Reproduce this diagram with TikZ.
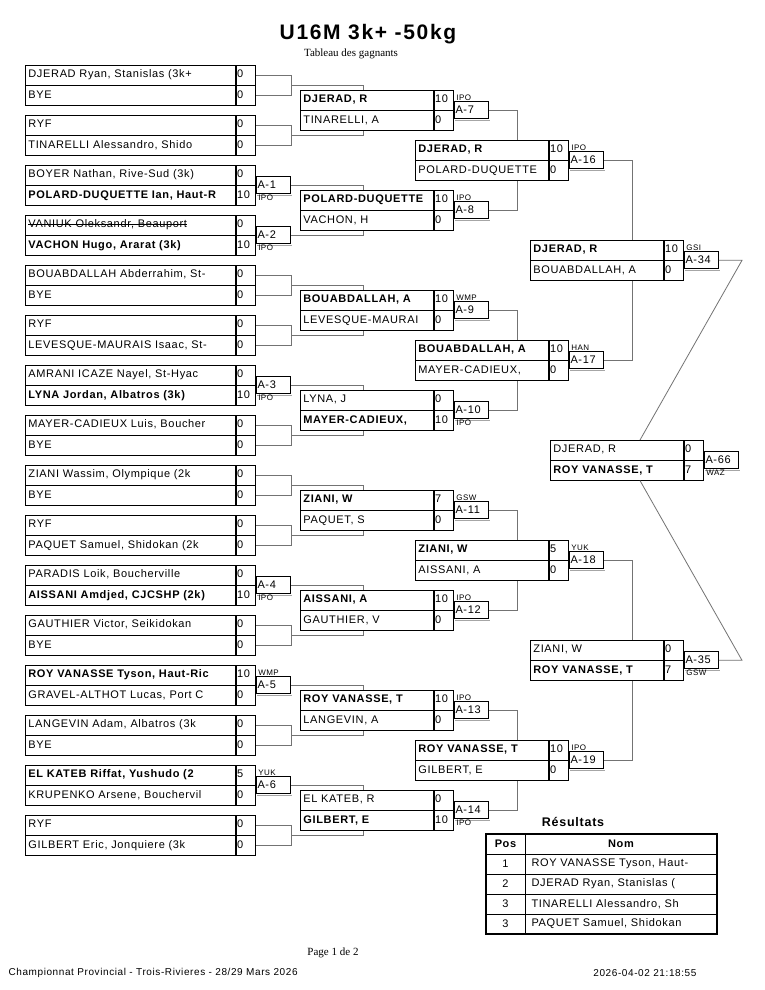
\documentclass[tikz,border=0pt]{standalone}
\usepackage{fontspec}
\setmainfont{Liberation Sans}[LetterSpace=6]
\newfontfamily\serfont{Liberation Serif}
\newfontfamily\headfont{Liberation Sans}[LetterSpace=8]
\usetikzlibrary{calc}

\newcommand{\cellfont}{\fontsize{11}{12}\selectfont}
\newcommand{\tagfont}{\fontsize{8}{9}\selectfont}
\newcommand{\win}[1]{\textbf{#1}}
\newcommand{\strike}[1]{\setbox0\hbox{#1}\rlap{\raisebox{3.3pt}{\rule{\wd0}{0.7pt}}}\box0}

\tikzset{
	namecell/.style={draw, line width=0.8pt, inner xsep=3pt, inner ysep=0pt, minimum height=19.5pt, text height=8pt, text depth=2.5pt, font=\cellfont},
	scorecell/.style={namecell, inner xsep=1pt},
	codebox/.style={draw, line width=0.8pt, fill=white, inner xsep=1pt, inner ysep=0pt, minimum height=17pt, text height=8pt, text depth=2.5pt, font=\cellfont},
	wintag/.style={inner sep=1pt, font=\tagfont},
	link/.style={draw=black!55, line width=0.8pt},
	shadowline/.style={draw=black!35, line width=1pt},
	tableline/.style={draw=black, line width=0.6pt}
}

% one bout: id, x, y, name width, top name, top score, bottom name, bottom score, entry offset
\newcommand{\bout}[9]{%
	\node[namecell, anchor=north west] (#1-a) at (#2,#3) {\makebox[\dimexpr#4pt-6pt\relax][l]{#5}};
	\node[scorecell, anchor=north west] (#1-as) at (#1-a.north east) {\makebox[17.5pt][l]{#6}};
	\node[namecell, anchor=north west] (#1-b) at (#1-a.south west) {\makebox[\dimexpr#4pt-6pt\relax][l]{#7}};
	\node[scorecell, anchor=north west] (#1-bs) at (#1-b.north east) {\makebox[17.5pt][l]{#8}};
	\coordinate (#1-top) at ($(#1-a.north west)+(#9,0)$);
	\coordinate (#1-bot) at ($(#1-b.south west)+(#9,0)$);
}
% match code box: id, code, tag, tag anchor, box anchor
\newcommand{\code}[5]{%
	\node[codebox, anchor=west] (#1-c) at (#1-as.south east) {\makebox[32pt][l]{#2}};
	\draw[shadowline] ([shift={(1pt,-1pt)}]#1-c.south west) -- ([shift={(1pt,-1pt)}]#1-c.south east);
	\node[wintag, anchor=#4] (#1-t) at ([xshift=1pt]#1-c.#5) {#3};
	\coordinate (#1-o) at (#1-c.east);
}
% bye bracket
\newcommand{\bracket}[1]{%
	\draw[link] (#1-as.east) -- ++(35,0) |- (#1-bs.east);
	\coordinate (#1-o) at ($(#1-as.south east)+(35,0)$);
}

\begin{document}
\begin{tikzpicture}[x=1pt, y=-1pt]
	%%%%% PAGE %%%%%
	\path[fill=white, use as bounding box] (0,0) rectangle (765,990);
	
	\node[font=\headfont\bfseries\fontsize{21}{24}\selectfont] (title) at (368,34) {U16M 3k+ -50kg};
	\node[font=\serfont\fontsize{11}{12}\selectfont] (sub) at (351,54) {Tableau des gagnants};
	
	%%%%% ROUND 1 %%%%%
	\bout{r1-0}{25}{65}{210}{DJERAD Ryan, Stanislas (3k+}{0}{BYE}{0}{0}
	\bracket{r1-0}
	\bout{r1-1}{25}{115}{210}{RYF}{0}{TINARELLI Alessandro, Shido}{0}{0}
	\bracket{r1-1}
	\bout{r1-2}{25}{165}{210}{BOYER Nathan, Rive-Sud (3k)}{0}{\win{POLARD-DUQUETTE Ian, Haut-R}}{10}{0}
	\code{r1-2}{A-1}{IPO}{north west}{south west}
	\bout{r1-3}{25}{215}{210}{\strike{VANIUK Oleksandr, Beauport}}{0}{\win{VACHON Hugo, Ararat (3k)}}{10}{0}
	\code{r1-3}{A-2}{IPO}{north west}{south west}
	\bout{r1-4}{25}{265}{210}{BOUABDALLAH Abderrahim, St-}{0}{BYE}{0}{0}
	\bracket{r1-4}
	\bout{r1-5}{25}{315}{210}{RYF}{0}{LEVESQUE-MAURAIS Isaac, St-}{0}{0}
	\bracket{r1-5}
	\bout{r1-6}{25}{365}{210}{AMRANI ICAZE Nayel, St-Hyac}{0}{\win{LYNA Jordan, Albatros (3k)}}{10}{0}
	\code{r1-6}{A-3}{IPO}{north west}{south west}
	\bout{r1-7}{25}{415}{210}{MAYER-CADIEUX Luis, Boucher}{0}{BYE}{0}{0}
	\bracket{r1-7}
	\bout{r1-8}{25}{465}{210}{ZIANI Wassim, Olympique (2k}{0}{BYE}{0}{0}
	\bracket{r1-8}
	\bout{r1-9}{25}{515}{210}{RYF}{0}{PAQUET Samuel, Shidokan (2k}{0}{0}
	\bracket{r1-9}
	\bout{r1-10}{25}{565}{210}{PARADIS Loik, Boucherville}{0}{\win{AISSANI Amdjed, CJCSHP (2k)}}{10}{0}
	\code{r1-10}{A-4}{IPO}{north west}{south west}
	\bout{r1-11}{25}{615}{210}{GAUTHIER Victor, Seikidokan}{0}{BYE}{0}{0}
	\bracket{r1-11}
	\bout{r1-12}{25}{665}{210}{\win{ROY VANASSE Tyson, Haut-Ric}}{10}{GRAVEL-ALTHOT Lucas, Port C}{0}{0}
	\code{r1-12}{A-5}{WMP}{south west}{north west}
	\bout{r1-13}{25}{715}{210}{LANGEVIN Adam, Albatros (3k}{0}{BYE}{0}{0}
	\bracket{r1-13}
	\bout{r1-14}{25}{765}{210}{\win{EL KATEB Riffat, Yushudo (2}}{5}{KRUPENKO Arsene, Bouchervil}{0}{0}
	\code{r1-14}{A-6}{YUK}{south west}{north west}
	\bout{r1-15}{25}{815}{210}{RYF}{0}{GILBERT Eric, Jonquiere (3k}{0}{0}
	\bracket{r1-15}
	
	%%%%% ROUND 2 %%%%%
	\bout{r2-0}{300}{90}{133}{\win{DJERAD, R}}{10}{TINARELLI, A}{0}{63}
	\code{r2-0}{A-7}{IPO}{south west}{north west}
	\bout{r2-1}{300}{190}{133}{\win{POLARD-DUQUETTE}}{10}{VACHON, H}{0}{63}
	\code{r2-1}{A-8}{IPO}{south west}{north west}
	\bout{r2-2}{300}{290}{133}{\win{BOUABDALLAH, A}}{10}{LEVESQUE-MAURAI}{0}{63}
	\code{r2-2}{A-9}{WMP}{south west}{north west}
	\bout{r2-3}{300}{390}{133}{LYNA, J}{0}{\win{MAYER-CADIEUX,}}{10}{63}
	\code{r2-3}{A-10}{IPO}{north west}{south west}
	\bout{r2-4}{300}{490}{133}{\win{ZIANI, W}}{7}{PAQUET, S}{0}{63}
	\code{r2-4}{A-11}{GSW}{south west}{north west}
	\bout{r2-5}{300}{590}{133}{\win{AISSANI, A}}{10}{GAUTHIER, V}{0}{63}
	\code{r2-5}{A-12}{IPO}{south west}{north west}
	\bout{r2-6}{300}{690}{133}{\win{ROY VANASSE, T}}{10}{LANGEVIN, A}{0}{63}
	\code{r2-6}{A-13}{IPO}{south west}{north west}
	\bout{r2-7}{300}{790}{133}{EL KATEB, R}{0}{\win{GILBERT, E}}{10}{63}
	\code{r2-7}{A-14}{IPO}{north west}{south west}
	
	%%%%% ROUND 3 %%%%%
	\bout{r3-0}{415}{140}{133}{\win{DJERAD, R}}{10}{POLARD-DUQUETTE}{0}{102}
	\code{r3-0}{A-16}{IPO}{south west}{north west}
	\bout{r3-1}{415}{340}{133}{\win{BOUABDALLAH, A}}{10}{MAYER-CADIEUX,}{0}{102}
	\code{r3-1}{A-17}{HAN}{south west}{north west}
	\bout{r3-2}{415}{540}{133}{\win{ZIANI, W}}{5}{AISSANI, A}{0}{102}
	\code{r3-2}{A-18}{YUK}{south west}{north west}
	\bout{r3-3}{415}{740}{133}{\win{ROY VANASSE, T}}{10}{GILBERT, E}{0}{102}
	\code{r3-3}{A-19}{IPO}{south west}{north west}
	
	%%%%% SEMIS AND FINAL %%%%%
	\bout{sf-0}{530}{240}{133}{\win{DJERAD, R}}{10}{BOUABDALLAH, A}{0}{102}
	\code{sf-0}{A-34}{GSI}{south west}{north west}
	\bout{sf-1}{530}{640}{133}{ZIANI, W}{0}{\win{ROY VANASSE, T}}{7}{102}
	\code{sf-1}{A-35}{GSW}{north west}{south west}
	
	\bout{fin}{550}{440}{133}{DJERAD, R}{0}{\win{ROY VANASSE, T}}{7}{90}
	\code{fin}{A-66}{WAZ}{north west}{south west}
	
	%%%%% CONNECTORS %%%%%
	\draw[link] (r1-0-o) -| (r2-0-top);
	\draw[link] (r1-1-o) -| (r2-0-bot);
	\draw[link] (r1-2-o) -| (r2-1-top);
	\draw[link] (r1-3-o) -| (r2-1-bot);
	\draw[link] (r1-4-o) -| (r2-2-top);
	\draw[link] (r1-5-o) -| (r2-2-bot);
	\draw[link] (r1-6-o) -| (r2-3-top);
	\draw[link] (r1-7-o) -| (r2-3-bot);
	\draw[link] (r1-8-o) -| (r2-4-top);
	\draw[link] (r1-9-o) -| (r2-4-bot);
	\draw[link] (r1-10-o) -| (r2-5-top);
	\draw[link] (r1-11-o) -| (r2-5-bot);
	\draw[link] (r1-12-o) -| (r2-6-top);
	\draw[link] (r1-13-o) -| (r2-6-bot);
	\draw[link] (r1-14-o) -| (r2-7-top);
	\draw[link] (r1-15-o) -| (r2-7-bot);
	
	\draw[link] (r2-0-o) -| (r3-0-top);
	\draw[link] (r2-1-o) -| (r3-0-bot);
	\draw[link] (r2-2-o) -| (r3-1-top);
	\draw[link] (r2-3-o) -| (r3-1-bot);
	\draw[link] (r2-4-o) -| (r3-2-top);
	\draw[link] (r2-5-o) -| (r3-2-bot);
	\draw[link] (r2-6-o) -| (r3-3-top);
	\draw[link] (r2-7-o) -| (r3-3-bot);
	
	\draw[link] (r3-0-o) -| (sf-0-top);
	\draw[link] (r3-1-o) -| (sf-0-bot);
	\draw[link] (r3-2-o) -| (sf-1-top);
	\draw[link] (r3-3-o) -| (sf-1-bot);
	
	\coordinate (turn) at (742,0);
	\draw[link] (sf-0-o) -- (sf-0-o -| turn) -- (fin-top);
	\draw[link] (sf-1-o) -- (sf-1-o -| turn) -- (fin-bot);
	
	%%%%% RESULTS %%%%%
	\node[font=\bfseries\fontsize{12.5}{14}\selectfont] (restitle) at (573,822) {Résultats};
	\draw[tableline] (486,854) -- (717,854);
	\draw[tableline] (486,874) -- (717,874);
	\draw[tableline] (486,894) -- (717,894);
	\draw[tableline] (486,914) -- (717,914);
	\draw[tableline] (525,834) -- (525,934);
	\draw[line width=1.5pt] (486,834) rectangle (717,934);
	\node[font=\bfseries\cellfont] (pos) at (505.5,844) {Pos};
	\node[font=\bfseries\cellfont] (nom) at (621,844) {Nom};
	\node[font=\cellfont] (p1) at (505.5,864) {1};
	\node[font=\cellfont, anchor=west] (n1) at (528,864) {ROY VANASSE Tyson, Haut-};
	\node[font=\cellfont] (p2) at (505.5,884) {2};
	\node[font=\cellfont, anchor=west] (n2) at (528,884) {DJERAD Ryan, Stanislas (};
	\node[font=\cellfont] (p3) at (505.5,904) {3};
	\node[font=\cellfont, anchor=west] (n3) at (528,904) {TINARELLI Alessandro, Sh};
	\node[font=\cellfont] (p4) at (505.5,924) {3};
	\node[font=\cellfont, anchor=west] (n4) at (528,924) {PAQUET Samuel, Shidokan};
	
	%%%%% FOOTER %%%%%
	\node[font=\serfont\fontsize{11}{12}\selectfont] (page) at (333,953) {Page 1 de 2};
	\node[font=\fontsize{10}{12}\selectfont, anchor=west] (event) at (5,973) {Championnat Provincial - Trois-Rivieres - 28/29 Mars 2026};
	\node[font=\fontsize{10}{12}\selectfont, anchor=east] (stamp) at (700,973) {2026-04-02 21:18:55};
	
	%%%%% END %%%%%
\end{tikzpicture}
\end{document}
